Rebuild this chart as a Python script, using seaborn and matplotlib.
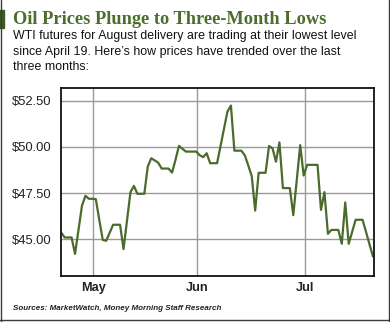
import numpy as np
import pandas as pd
import matplotlib
matplotlib.use("Agg")
import matplotlib.pyplot as plt
import matplotlib.dates as mdates
from matplotlib.lines import Line2D
from matplotlib.patches import Rectangle
import seaborn as sns

# ---- data (daily, Apr 21 - Jul 20, 2016; weekends/holidays carry prior value) ----
start_date = "2016-04-21"
prices = [
    45.36, 45.09, 45.09, 45.09, 44.20, 45.50, 46.81, 47.35, 47.19, 47.19,
    47.17, 46.05, 44.96, 44.91, 45.35, 45.78, 45.78, 45.78, 44.46, 46.00,
    47.55, 47.89, 47.46, 47.46, 47.46, 48.94, 49.39, 49.27, 49.15, 48.83,
    48.83, 48.83, 48.61, 49.30, 50.06, 49.90, 49.75, 49.75, 49.75, 49.75,
    49.55, 49.45, 49.66, 49.12, 49.12, 49.12, 50.05, 50.99, 51.92, 52.25,
    49.80, 49.80, 49.80, 49.55, 49.00, 48.43, 46.55, 48.60, 48.60, 48.60,
    50.05, 49.93, 49.20, 50.25, 47.77, 47.77, 47.77, 46.30, 48.20, 50.10,
    48.45, 49.03, 49.03, 49.03, 49.03, 46.59, 47.55, 45.29, 45.50, 45.50,
    45.50, 44.75, 46.99, 44.75, 45.40, 46.05, 46.05, 46.05, 45.39, 44.72,
    44.06,
]
dates = pd.date_range(start_date, periods=len(prices), freq="D")
ytick_vals = [45.0, 47.5, 50.0, 52.5]
ytick_labels = ["$45.00", "$47.50", "$50.00", "$52.50"]
xtick_labels = ["May", "Jun", "Jul"]

title = "Oil Prices Plunge to Three-Month Lows"
subtitle = ("WTI futures for August delivery are trading at their lowest level\n"
            "since April 19. Here\u2019s how prices have trended over the last\n"
            "three months:")
source = "Sources: MarketWatch, Money Morning Staff Research"

df = pd.DataFrame({"date": dates, "price": prices})

# ---- styling ----
sns.set_style("white")
plt.rcParams["font.family"] = ["Liberation Sans", "DejaVu Sans"]

W, H = 390, 322
fig = plt.figure(figsize=(W / 100, H / 100), dpi=100)
fig.patch.set_facecolor("white")

ax = fig.add_axes([61 / W, 1 - 276 / H, (374 - 61) / W, (276 - 88) / H])

green = "#4a6b2b"
sns.lineplot(data=df, x="date", y="price", ax=ax, color=green, linewidth=1.6)

base = mdates.date2num(pd.Timestamp(start_date))
ax.set_xlim(base - 0.05, base + 90.3)
ax.set_ylim(43.0, 53.2)

ax.set_xticks([base + 9.26, base + 39.25, base + 70.4])
ax.set_xticklabels(xtick_labels)
ax.set_yticks(ytick_vals)
ax.set_yticklabels(ytick_labels)

ax.set_xlabel("")
ax.set_ylabel("")
ax.grid(True, color="#9a9a9a", linewidth=1.0)
ax.set_axisbelow(True)
for s in ax.spines.values():
    s.set_color("#111111")
    s.set_linewidth(1.3)
    s.set_visible(True)

ax.tick_params(axis="both", length=0)
ax.tick_params(axis="y", pad=7, labelsize=9.4, labelcolor="#222222")
ax.tick_params(axis="x", pad=4, labelsize=9.2, labelcolor="#222222")
for lab in ax.get_xticklabels():
    lab.set_fontweight("bold")

# ---- texts ----
fig.text(13 / W, 1 - 19 / H, title, family=["Liberation Serif", "DejaVu Serif"],
         fontweight="bold", fontsize=13.2, color="#4b6e2d", va="center", ha="left")
fig.text(13 / W, 1 - 30.5 / H, subtitle, fontsize=8.95, color="#111111",
         va="top", ha="left", linespacing=1.36)
fig.text(13 / W, 1 - 309 / H, source, fontsize=5.8, color="#222222",
         style="italic", fontweight="bold", va="center", ha="left")

# ---- frame & accent bar ----
fc = "#3a3a3a"
fig.add_artist(Line2D([0.6 / W, 0.6 / W], [0, 1], color=fc, lw=1.0, transform=fig.transFigure))
fig.add_artist(Line2D([388.5 / W, 388.5 / W], [0, 1], color=fc, lw=1.0, transform=fig.transFigure))
fig.add_artist(Line2D([0, 1], [1 - 319.5 / H, 1 - 319.5 / H], color=fc, lw=1.0, transform=fig.transFigure))
fig.add_artist(Rectangle((0, 1 - 28 / H), 4 / W, 18 / H, color="#3f5a25",
                         transform=fig.transFigure))

fig.savefig("out.png", dpi=100, facecolor="white")
